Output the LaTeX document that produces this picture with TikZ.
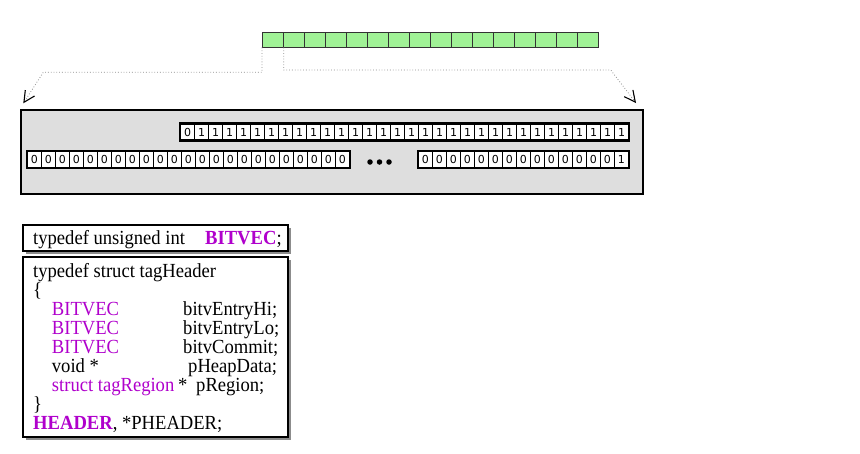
\documentclass[tikz,border=0pt]{standalone}
\usepackage{fontspec}
\setmainfont[FakeStretch=0.93]{Liberation Serif}
\newfontfamily\bitfont{DejaVu Sans}
\usetikzlibrary{arrows.meta, shadows}
\definecolor{typecol}{RGB}{176,0,204}
\definecolor{cellgreen}{RGB}{160,242,150}
\definecolor{panelgray}{RGB}{222,222,222}
\tikzset{
  greencell/.style={draw=black!80, fill=cellgreen, minimum width=21pt, minimum height=14.7pt, inner sep=0pt, line width=0.8pt},
  bitcell/.style={draw, fill=white, minimum width=14pt, minimum height=16pt, inner sep=0pt, line width=1.3pt, font=\bitfont\fontsize{11}{11}\selectfont},
  pointer/.style={draw=black!45, dotted, line width=0.8pt, -{Straight Barb[length=11pt,width=11pt,black,line width=1.1pt]}},
  codebox/.style={draw, fill=white, line width=1.2pt, inner sep=0pt, drop shadow={shadow xshift=3pt, shadow yshift=-3pt, fill=black!45, opacity=1}},
  code/.style={anchor=base west, inner sep=0pt, font=\fontsize{20}{19}\selectfont},
  dotmark/.style={circle, fill, inner sep=0pt, minimum size=5.5pt},
}
\begin{document}
\begin{tikzpicture}[x=1pt,y=-1pt]
\useasboundingbox (0,0) rectangle (860,453);
% Top bar of sixteen cells
\foreach \i in {1,...,16}
  \node[greencell] (g\i) at ({262.3+21*(\i-0.5)},39.7) {};
% The gray panel
\node[draw, fill=panelgray, line width=2.2pt, minimum width=622pt, minimum height=84pt, inner sep=0pt] (panel) at (332,152) {};
% Upper row: one 0 and then ones
\foreach \i in {1,...,32}
  \node[bitcell] (hi\i) at ({180.7+14*(\i-0.5)},132) {\ifnum\i=1 0\else 1\fi};
\draw[line width=2.2pt] (hi1.north west) rectangle (hi32.south east);
% Lower row, left part
\foreach \i in {1,...,23}
  \node[bitcell] (lo\i) at ({27.3+14*(\i-0.5)},159.7) {0};
\draw[line width=2.2pt] (lo1.north west) rectangle (lo23.south east);
% Lower row, right part: the last bit is 1
\foreach \i in {1,...,15}
  \node[bitcell] (lr\i) at ({418.3+14*(\i-0.5)},159.7) {\ifnum\i=15 1\else 0\fi};
\draw[line width=2.2pt] (lr1.north west) rectangle (lr15.south east);
% Dots between the two parts
\foreach \x [count=\k] in {370,379.5,389}
  \node[dotmark] (dot\k) at (\x,162) {};
% Dotted pointers from the first cell down to the panel
\coordinate (lbend) at (43.3,72.3);
\coordinate (ltip) at (23.3,103.3);
\coordinate (rbend) at (610.7,70);
\coordinate (rtip) at (636,103);
\draw[pointer] (g1.south west) |- (lbend) -- (ltip);
\draw[pointer] (g1.south east) |- (rbend) -- (rtip);
% The typedef box
\node[codebox, minimum width=265pt, minimum height=26pt] (tdbox) at (155.5,238) {};
\node[code] (tdline) at (33,244) {typedef unsigned int};
\node[code] (tdname) at (205,244) {{\color{typecol}\bfseries BITVEC};};
% The struct box
\node[codebox, minimum width=265pt, minimum height=180pt] (hdbox) at (155.5,347) {};
\node[code] (hd1) at (33,277) {typedef struct tagHeader};
\node[code] (hd2) at (33,296) {\{};
\node[code, text=typecol] (hd3) at (51.7,315) {BITVEC};
\node[code] (hd3b) at (183,315) {bitvEntryHi;};
\node[code, text=typecol] (hd4) at (51.7,334) {BITVEC};
\node[code] (hd4b) at (183,334) {bitvEntryLo;};
\node[code, text=typecol] (hd5) at (51.7,353) {BITVEC};
\node[code] (hd5b) at (183,353) {bitvCommit;};
\node[code] (hd6) at (51.7,372) {void *};
\node[code] (hd6b) at (188,372) {pHeapData;};
\node[code, text=typecol] (hd7) at (51.7,391) {struct tagRegion};
\node[code] (hd7s) at (178,391) {*};
\node[code] (hd7b) at (196,391) {pRegion;};
\node[code] (hd8) at (33,410) {\}};
\node[code] (hd9) at (33,429) {{\color{typecol}\bfseries HEADER}, *PHEADER;};
\end{tikzpicture}
\end{document}
